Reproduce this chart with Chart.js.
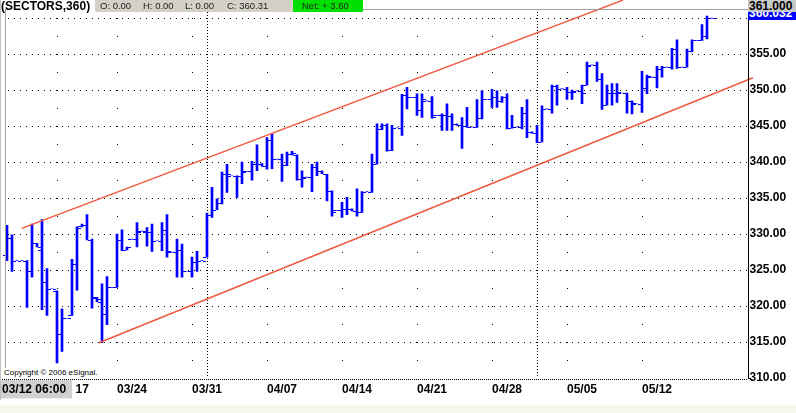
<!DOCTYPE html>
<html>
<head>
<meta charset="utf-8">
<script src="https://cdn.jsdelivr.net/npm/chart.js@4.4.1/dist/chart.umd.min.js"></script>
<style>
body { margin: 0; background: #fff; font-family: "Liberation Sans", Arial, sans-serif; }
#wrap { position: relative; width: 796px; height: 413px; overflow: hidden; }
#chartSectors { position: absolute; left: 0; top: 0; }
.box { position: absolute; white-space: nowrap; }
</style>
</head>
<body>
<div id="wrap">
  <canvas id="chartSectors" width="796" height="413"></canvas>
  <div class="box" style="left:1px;top:0;font-weight:bold;font-size:12px;line-height:13px;color:#000;">(SECTORS,360)</div>
  <div class="box" style="left:95px;top:0;width:198px;height:12px;background:#d4d0c8;font-size:9.5px;line-height:12px;color:#222;">
    <span style="position:absolute;left:5px">O: 0.00</span>
    <span style="position:absolute;left:48px">H: 0.00</span>
    <span style="position:absolute;left:90px">L: 0.00</span>
    <span style="position:absolute;left:132px">C: 360.31</span>
  </div>
  <div class="box" style="left:293px;top:0;width:70px;height:12px;background:#00e000;font-size:9.5px;line-height:12px;color:#222;">
    <span style="position:absolute;left:9px">Net: + 3.60</span>
  </div>
  <div class="box" style="left:748px;top:7px;width:48px;height:13px;background:#0000ff;color:#fff;font-weight:bold;font-size:12px;line-height:13px;padding-left:1px;">360.032</div>
  <div class="box" style="left:748px;top:0;width:48px;height:12px;background:#c8c8c8;color:#000;font-weight:bold;font-size:12px;line-height:12px;padding-left:1px;">361.000</div>
  <div class="box" style="left:2px;top:368px;width:98px;height:10px;background:#fff;font-size:8px;line-height:10px;color:#000;padding-left:2px;">Copyright © 2006 eSignal.</div>
  <div class="box" style="left:0;top:405px;width:796px;height:8px;background:#f7f7f0;"></div>
</div>
<script>
// 360-min bars, one slot each
const opens = [
  327.1, 329.5, 326.3, 326.3, 326.3, 324.8, 328.7, 327.8, 323.3, 322.4,
  322.1, 316.1, 318.3, 318.7, 325.9, 331.1, 331.3, 329.2, 321.2, 321.0,
  318.9, 322.6, 322.6, 329.2, 327.8, 329.3, 329.3, 330.4, 330.3, 330.3,
  329.1, 329.1, 330.5, 327.5, 327.5, 327.8, 324.8, 324.8, 326.1, 326.3,
  326.8, 332.7, 333.4, 334.3, 338.4, 338.1, 338.0, 338.0, 338.7, 338.7,
  339.8, 339.7, 339.4, 343.0, 340.4, 340.4, 339.6, 341.1, 341.0, 337.7,
  337.9, 337.9, 339.3, 338.8, 338.3, 336.0, 333.3, 333.3, 333.5, 333.5,
  333.2, 333.0, 335.9, 335.9, 339.7, 344.6, 345.2, 341.7, 344.8, 344.8,
  349.3, 349.0, 349.0, 347.3, 348.5, 348.5, 346.5, 346.5, 346.5, 346.4,
  345.3, 345.1, 345.0, 344.9, 344.9, 346.1, 348.7, 348.7, 349.0, 348.5,
  349.0, 344.8, 344.9, 344.9, 346.8, 344.2, 344.0, 342.8, 347.4, 347.4,
  350.6, 350.2, 350.2, 349.7, 349.9, 349.9, 350.7, 353.5, 353.5, 351.6,
  347.9, 349.6, 349.6, 349.6, 349.6, 348.5, 348.1, 348.1, 350.3, 351.8,
  351.8, 353.0, 353.2, 353.2, 355.7, 353.2, 353.2, 355.4, 356.9, 356.9,
  357.5, 360.0
];
const highs = [
  331.2, 329.9, 326.3, 326.3, 326.3, 331.4, 328.7, 332.0, 325.2, 322.4,
  322.1, 319.6, 318.3, 326.5, 331.0, 331.4, 332.7, 329.3, 321.2, 323.1,
  324.1, 322.6, 330.0, 330.6, 328.2, 329.3, 331.6, 330.4, 330.9, 331.4,
  329.1, 331.6, 332.7, 327.5, 329.3, 328.6, 324.8, 326.8, 327.6, 326.3,
  332.9, 336.5, 334.9, 338.6, 339.7, 338.1, 338.1, 340.0, 338.7, 340.1,
  342.4, 339.8, 343.4, 343.9, 340.4, 341.1, 341.4, 341.5, 341.0, 338.8,
  337.9, 339.7, 340.0, 338.8, 338.3, 336.0, 333.3, 334.4, 335.1, 333.5,
  336.3, 335.9, 335.9, 341.1, 345.3, 345.3, 345.3, 345.1, 344.8, 349.4,
  350.4, 349.0, 349.5, 349.5, 348.5, 349.1, 346.5, 346.7, 348.1, 346.7,
  345.3, 346.2, 347.6, 344.9, 348.7, 349.9, 348.7, 350.1, 349.9, 349.1,
  349.5, 346.5, 344.9, 347.6, 348.7, 344.2, 345.1, 347.8, 347.4, 350.7,
  350.7, 350.2, 350.4, 350.0, 349.9, 350.7, 353.9, 353.5, 353.9, 352.3,
  350.7, 350.9, 350.9, 349.6, 349.6, 348.5, 348.1, 352.6, 352.1, 351.8,
  353.3, 353.3, 353.2, 355.8, 357.0, 353.2, 355.7, 357.0, 356.9, 359.1,
  360.3, 360.0
];
const lows = [
  326.3, 324.8, 326.3, 326.3, 319.8, 324.0, 328.2, 319.5, 318.7, 322.4,
  312.1, 313.7, 318.3, 318.7, 322.2, 331.0, 329.2, 319.7, 320.6, 314.9,
  317.4, 322.6, 322.6, 327.7, 327.8, 329.3, 328.2, 330.4, 328.3, 327.6,
  329.1, 327.7, 326.8, 327.5, 324.0, 324.0, 324.8, 324.0, 324.8, 326.3,
  326.8, 332.3, 333.4, 334.2, 335.8, 338.1, 335.1, 337.0, 338.7, 337.5,
  338.8, 339.4, 339.0, 339.1, 340.4, 337.3, 339.5, 341.0, 337.5, 336.5,
  337.9, 335.9, 338.1, 338.4, 334.6, 332.5, 333.3, 332.3, 332.7, 333.2,
  332.5, 333.0, 335.9, 335.8, 339.7, 344.5, 341.5, 341.6, 344.8, 343.7,
  347.4, 349.0, 346.5, 346.2, 348.5, 346.1, 346.5, 344.4, 344.4, 344.4,
  345.1, 341.9, 344.8, 344.9, 344.8, 346.0, 348.7, 347.6, 347.6, 348.3,
  344.6, 344.7, 344.9, 344.6, 343.4, 344.0, 342.7, 342.8, 347.4, 346.8,
  347.9, 350.2, 348.7, 348.7, 349.9, 348.1, 350.7, 353.5, 351.2, 347.3,
  347.9, 347.9, 348.3, 349.6, 346.8, 346.7, 348.1, 346.9, 349.5, 351.8,
  350.3, 351.8, 353.2, 352.9, 353.0, 353.2, 353.2, 355.3, 356.9, 356.9,
  357.1, 360.0
];
const closes = [
  329.5, 326.3, 326.3, 326.3, 324.8, 328.7, 328.2, 323.3, 322.4, 322.4,
  316.1, 318.4, 318.3, 325.9, 330.9, 331.3, 329.2, 321.1, 320.6, 318.9,
  322.6, 322.6, 329.2, 327.8, 328.2, 329.3, 330.3, 330.4, 330.3, 329.1,
  329.1, 330.5, 327.6, 327.5, 327.8, 324.8, 324.8, 326.1, 326.2, 326.3,
  332.7, 333.4, 334.3, 338.4, 338.3, 338.1, 338.0, 338.6, 338.7, 339.8,
  339.7, 339.4, 343.0, 340.4, 340.4, 339.6, 341.1, 341.3, 337.7, 337.8,
  337.9, 339.3, 338.8, 338.4, 336.0, 333.1, 333.3, 333.5, 333.5, 333.2,
  333.0, 335.9, 335.9, 339.7, 344.6, 345.2, 341.7, 344.8, 344.8, 349.3,
  349.0, 349.0, 347.3, 348.7, 348.5, 346.2, 346.5, 346.5, 346.4, 345.3,
  345.1, 345.0, 344.9, 344.9, 346.1, 348.7, 348.7, 349.0, 348.5, 349.0,
  344.8, 344.9, 344.9, 346.8, 344.2, 344.0, 342.8, 347.4, 347.4, 350.6,
  350.2, 350.2, 349.7, 349.7, 349.9, 349.6, 353.4, 353.5, 351.6, 347.9,
  349.6, 349.6, 349.7, 349.6, 348.5, 348.2, 348.1, 350.3, 352.0, 351.8,
  353.0, 353.2, 353.2, 355.7, 353.2, 353.2, 355.4, 356.9, 356.9, 357.5,
  360.0, 360.0
];

// channel lines (slot, price)
const upperX = [2.94, 123.2];
const upperY = [330.79, 362.5];
const lowerX = [18.4, 149.2];
const lowerY = [314.9, 351.71];

// axis labels and grid
const xTickPos = [-1, 13.7, 22, 37, 52, 67, 82, 97, 112, 127];
const xTickLabels = ['03/12 06:00', '17', '03/24', '03/31', '04/07', '04/14', '04/21', '04/28', '05/05', '05/12'];
const xGridPos = [10, 22, 37, 52, 67, 82, 97, 112, 127];
const monthPos = [40, 106];
const yTickVals = [310, 315, 320, 325, 330, 335, 340, 345, 350, 355];
const yGridVals = [315, 320, 325, 330, 335, 340, 345, 350, 355, 360];

const slots = opens.map((_, i) => i);
const labelFont = { family: 'Liberation Sans', size: 12, weight: 'bold' };

// dotted grid behind the bars
const gridPlugin = {
    id: 'dottedGrid',
    beforeDatasetsDraw(chart) {
        const { ctx, chartArea: a, scales: { x, y } } = chart;
        ctx.save();
        ctx.fillStyle = '#000';
        yGridVals.forEach(v => {
            const py = Math.round(y.getPixelForValue(v));
            for (let px = 8; px < a.right; px += 6) ctx.fillRect(px, py, 1, 1);
        });
        xGridPos.forEach(p => {
            const px = Math.round(x.getPixelForValue(p));
            for (let v = 312.5; v <= 360; v += 2.5) ctx.fillRect(px, Math.round(y.getPixelForValue(v)), 1, 1);
        });
        monthPos.forEach(p => {
            const px = Math.round(x.getPixelForValue(p));
            for (let py = Math.ceil(a.top) + 2; py < a.bottom; py += 3) ctx.fillRect(px, py, 1, 1);
        });
        const by = Math.round(y.getPixelForValue(310)) + 1;
        for (let px = 0; px < a.right; px += 2) ctx.fillRect(px, by, 1, 1);
        ctx.restore();
    }
};

// open / close ticks
const ohlcPlugin = {
    id: 'ohlcTicks',
    afterDatasetsDraw(chart) {
        const { ctx, scales: { x, y } } = chart;
        ctx.save();
        ctx.fillStyle = '#0000ff';
        slots.forEach(i => {
            const px = Math.round(x.getPixelForValue(i));
            ctx.fillRect(px - 4, Math.round(y.getPixelForValue(opens[i])), 3, 1);
            ctx.fillRect(px + 1, Math.round(y.getPixelForValue(closes[i])), 3, 1);
        });
        ctx.restore();
    }
};

// frame lines
const framePlugin = {
    id: 'frame',
    afterDraw(chart) {
        const { ctx, chartArea: a } = chart;
        const r = Math.round(a.right);
        ctx.save();
        ctx.fillStyle = '#c0c0c0';
        ctx.fillRect(0, 0, 1, 400);
        ctx.fillStyle = '#a0a0a0';
        ctx.fillRect(5, Math.floor(a.top), 1, a.bottom - a.top);
        ctx.fillRect(363, Math.floor(a.top), r - 363, 1);
        ctx.fillStyle = '#000';
        ctx.fillRect(r, 0, 1, Math.round(a.bottom) + 1);
        ctx.fillRect(r, Math.round(a.bottom), 3, 1);
        ctx.restore();
    }
};

const ctxSectors = document.getElementById('chartSectors').getContext('2d');
new Chart(ctxSectors, {
    type: 'bar',
    data: {
        datasets: [
            {
                type: 'line',
                data: upperX.map((v, i) => ({ x: v, y: upperY[i] })),
                borderColor: '#f0583f',
                borderWidth: 1.5,
                pointRadius: 0,
                clip: false,
                order: 0
            },
            {
                type: 'line',
                data: lowerX.map((v, i) => ({ x: v, y: lowerY[i] })),
                borderColor: '#f0583f',
                borderWidth: 1.5,
                pointRadius: 0,
                clip: false,
                order: 0
            },
            {
                type: 'bar',
                data: slots.map(i => ({ x: i, y: [lows[i], highs[i]] })),
                backgroundColor: '#0000ff',
                barThickness: 2,
                order: 1
            }
        ]
    },
    options: {
        responsive: false,
        animation: false,
        events: [],
        layout: { padding: { left: 2, top: 9.5, right: 0, bottom: 0 } },
        plugins: {
            legend: { display: false },
            tooltip: { enabled: false }
        },
        scales: {
            x: {
                type: 'linear',
                min: -1,
                max: 148.1,
                offset: false,
                grid: { display: false, drawTicks: false },
                border: { display: false },
                afterBuildTicks: axis => { axis.ticks = xTickPos.map(v => ({ value: v })); },
                afterFit: axis => { axis.height = 35; axis.paddingLeft = 0; axis.paddingRight = 0; },
                ticks: {
                    autoSkip: false,
                    maxRotation: 0,
                    align: 'start',
                    padding: 4,
                    color: '#000',
                    font: labelFont,
                    callback: (v, i) => xTickLabels[i],
                    showLabelBackdrop: c => c.index === 0,
                    backdropColor: '#d0d0d0',
                    backdropPadding: { top: 2, bottom: 2, left: 2, right: 6 }
                }
            },
            y: {
                type: 'linear',
                position: 'right',
                min: 310,
                max: 361.2,
                grid: { display: false, drawTicks: false },
                border: { display: false },
                afterBuildTicks: axis => { axis.ticks = yTickVals.map(v => ({ value: v })); },
                afterFit: axis => { axis.width = 48.5; axis.paddingTop = 0; axis.paddingBottom = 0; },
                ticks: {
                    padding: 2,
                    color: '#000',
                    font: labelFont,
                    callback: v => v.toFixed(2)
                }
            }
        }
    },
    plugins: [gridPlugin, ohlcPlugin, framePlugin]
});
</script>
</body>
</html>
